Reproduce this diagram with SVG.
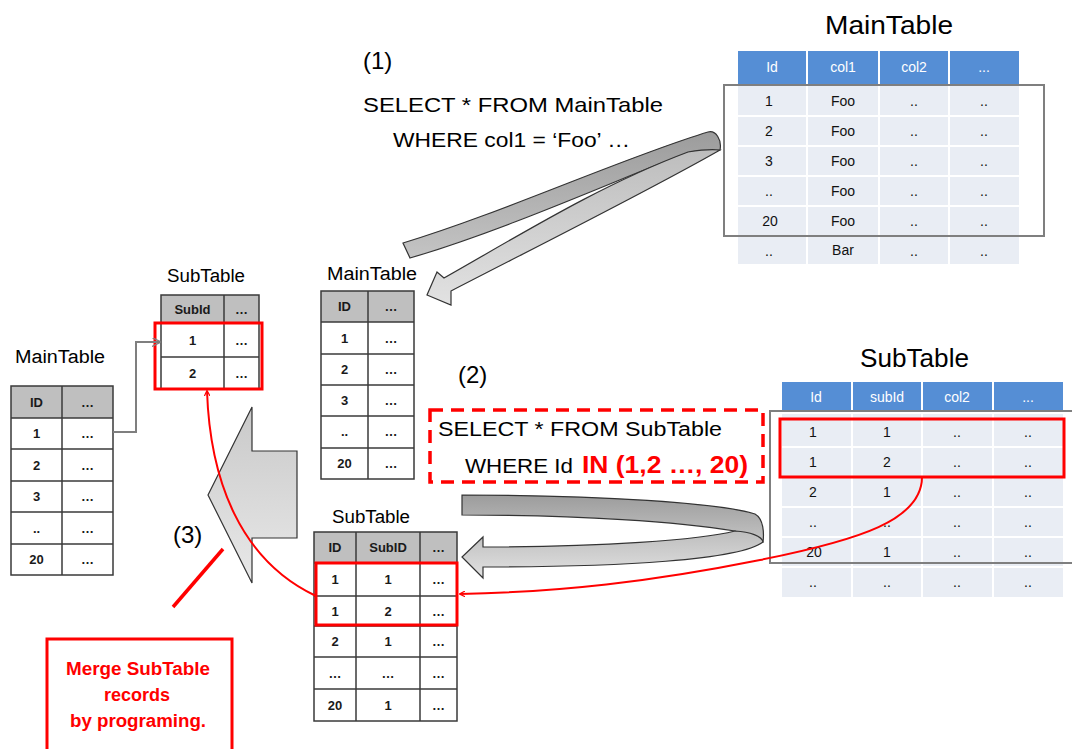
<svg xmlns="http://www.w3.org/2000/svg" width="1072" height="749" viewBox="0 0 1072 749">
<style>
.t{font-family:"Liberation Sans",Arial,sans-serif;fill:#000}
.c{font-family:"Liberation Sans",Arial,sans-serif;font-size:13px;font-weight:bold;fill:#1a1a1a;text-anchor:middle}
.g{font-family:"Liberation Sans",Arial,sans-serif;font-size:14px;fill:#111;text-anchor:middle}
.gh{font-family:"Liberation Sans",Arial,sans-serif;font-size:14px;fill:#fff;text-anchor:middle}
.grid{stroke:#3a3a3a;stroke-width:1.5;fill:none}
.wl{stroke:#fff;stroke-width:2}
.hd{fill:#bfbfbf}
.red{stroke:#ff0000;stroke-width:3;fill:none}
.rib{stroke:#333;stroke-width:1.2}
.tr{font-family:"Liberation Sans",Arial,sans-serif;font-weight:bold;fill:#ff0000;text-anchor:middle;font-size:18px}
</style>
<defs>
<marker id="ar" viewBox="0 0 10 10" refX="9" refY="5" markerWidth="6" markerHeight="6" orient="auto" markerUnits="userSpaceOnUse">
<path d="M0,0 L10,5 L0,10" fill="none" stroke="#ff0000" stroke-width="2"/>
</marker>
<marker id="ag" viewBox="0 0 10 10" refX="9" refY="5" markerWidth="9" markerHeight="9" orient="auto" markerUnits="userSpaceOnUse">
<path d="M0,0 L10,5 L0,10" fill="none" stroke="#7f7f7f" stroke-width="1.5"/>
</marker>
<linearGradient id="gb" x1="0" y1="0" x2="0" y2="1">
<stop offset="0" stop-color="#9c9c9c"/><stop offset="1" stop-color="#c4c4c4"/>
</linearGradient>
<linearGradient id="gf" x1="0" y1="0" x2="0" y2="1">
<stop offset="0" stop-color="#bdbdbd"/><stop offset="1" stop-color="#e2e2e2"/>
</linearGradient>
<linearGradient id="gbl" x1="0" y1="0" x2="0" y2="1">
<stop offset="0" stop-color="#c9c9c9"/><stop offset="1" stop-color="#e8e8e8"/>
</linearGradient>
</defs>
<rect width="1072" height="749" fill="#fff"/>

<!-- Top-right MainTable -->
<g id="main-table-top">
<text class="t" x="825" y="34" font-size="25" textLength="128" lengthAdjust="spacingAndGlyphs">MainTable</text>
<rect x="738" y="51" width="281" height="33" fill="#558ed5"/>
<rect x="738" y="86" width="281" height="178" fill="#e9edf4"/>
<g class="wl">
<line x1="807" y1="51" x2="807" y2="264"/><line x1="879" y1="51" x2="879" y2="264"/><line x1="949" y1="51" x2="949" y2="264"/>
<line x1="738" y1="116" x2="1019" y2="116"/><line x1="738" y1="146" x2="1019" y2="146"/><line x1="738" y1="176" x2="1019" y2="176"/><line x1="738" y1="206" x2="1019" y2="206"/><line x1="738" y1="236" x2="1019" y2="236"/>
</g>
<text class="gh" x="772" y="72">Id</text><text class="gh" x="843" y="72">col1</text><text class="gh" x="914" y="72">col2</text><text class="gh" x="984" y="72">...</text>
<text class="g" x="769" y="106">1</text><text class="g" x="843" y="106">Foo</text><text class="g" x="914" y="106">..</text><text class="g" x="984" y="106">..</text>
<text class="g" x="769" y="136">2</text><text class="g" x="843" y="136">Foo</text><text class="g" x="914" y="136">..</text><text class="g" x="984" y="136">..</text>
<text class="g" x="769" y="166">3</text><text class="g" x="843" y="166">Foo</text><text class="g" x="914" y="166">..</text><text class="g" x="984" y="166">..</text>
<text class="g" x="769" y="196">..</text><text class="g" x="843" y="196">Foo</text><text class="g" x="914" y="196">..</text><text class="g" x="984" y="196">..</text>
<text class="g" x="770" y="226">20</text><text class="g" x="843" y="226">Foo</text><text class="g" x="914" y="226">..</text><text class="g" x="984" y="226">..</text>
<text class="g" x="769" y="256">..</text><text class="g" x="843" y="255">Bar</text><text class="g" x="914" y="256">..</text><text class="g" x="984" y="256">..</text>
<rect x="724" y="85" width="320" height="151" fill="none" stroke="#7f7f7f" stroke-width="2"/>
</g>

<!-- Right SubTable -->
<g id="sub-table-right">
<text class="t" x="860" y="367" font-size="26" textLength="109" lengthAdjust="spacingAndGlyphs">SubTable</text>
<rect x="782" y="382" width="281" height="30" fill="#558ed5"/>
<rect x="782" y="414" width="281" height="183" fill="#e9edf4"/>
<g class="wl">
<line x1="852" y1="382" x2="852" y2="597"/><line x1="922" y1="382" x2="922" y2="597"/><line x1="993" y1="382" x2="993" y2="597"/>
<line x1="782" y1="447" x2="1063" y2="447"/><line x1="782" y1="477" x2="1063" y2="477"/><line x1="782" y1="507" x2="1063" y2="507"/><line x1="782" y1="537" x2="1063" y2="537"/><line x1="782" y1="567" x2="1063" y2="567"/>
</g>
<text class="gh" x="816" y="402">Id</text><text class="gh" x="887" y="402">subId</text><text class="gh" x="957" y="402">col2</text><text class="gh" x="1028" y="402">...</text>
<text class="g" x="813" y="437">1</text><text class="g" x="887" y="437">1</text><text class="g" x="957" y="437">..</text><text class="g" x="1028" y="437">..</text>
<text class="g" x="813" y="467">1</text><text class="g" x="887" y="467">2</text><text class="g" x="957" y="467">..</text><text class="g" x="1028" y="467">..</text>
<text class="g" x="813" y="497">2</text><text class="g" x="887" y="497">1</text><text class="g" x="957" y="497">..</text><text class="g" x="1028" y="497">..</text>
<text class="g" x="813" y="527">..</text><text class="g" x="887" y="527">..</text><text class="g" x="957" y="527">..</text><text class="g" x="1028" y="527">..</text>
<text class="g" x="814" y="557">20</text><text class="g" x="887" y="557">1</text><text class="g" x="957" y="557">..</text><text class="g" x="1028" y="557">..</text>
<text class="g" x="813" y="587">..</text><text class="g" x="887" y="587">..</text><text class="g" x="957" y="587">..</text><text class="g" x="1028" y="587">..</text>
<rect x="770" y="411" width="310" height="152" fill="none" stroke="#7f7f7f" stroke-width="2"/>
<rect x="780" y="419" width="284" height="58" class="red"/>
</g>

<!-- Middle MainTable -->
<g id="main-table-mid">
<text class="t" x="327" y="280" font-size="18" textLength="90" lengthAdjust="spacingAndGlyphs">MainTable</text>
<rect x="321" y="291" width="93" height="31" class="hd"/>
<rect x="321" y="322" width="93" height="157" fill="#fff"/>
<g class="grid">
<rect x="321" y="291" width="93" height="188"/>
<line x1="368" y1="291" x2="368" y2="479"/>
<line x1="321" y1="322" x2="414" y2="322"/><line x1="321" y1="354" x2="414" y2="354"/><line x1="321" y1="385" x2="414" y2="385"/><line x1="321" y1="416" x2="414" y2="416"/><line x1="321" y1="448" x2="414" y2="448"/>
</g>
<text class="c" x="344.5" y="311">ID</text><text class="c" x="391" y="311">…</text>
<text class="c" x="344.5" y="343">1</text><text class="c" x="391" y="343">…</text>
<text class="c" x="344.5" y="374">2</text><text class="c" x="391" y="374">…</text>
<text class="c" x="344.5" y="405">3</text><text class="c" x="391" y="405">…</text>
<text class="c" x="344.5" y="436">..</text><text class="c" x="391" y="436">…</text>
<text class="c" x="344.5" y="468">20</text><text class="c" x="391" y="468">…</text>
</g>

<!-- Left MainTable -->
<g id="main-table-left">
<text class="t" x="15" y="363" font-size="18" textLength="90" lengthAdjust="spacingAndGlyphs">MainTable</text>
<rect x="11" y="386" width="102" height="32" class="hd"/>
<rect x="11" y="418" width="102" height="157" fill="#fff"/>
<g class="grid">
<rect x="11" y="386" width="102" height="189"/>
<line x1="62" y1="386" x2="62" y2="575"/>
<line x1="11" y1="418" x2="113" y2="418"/><line x1="11" y1="449" x2="113" y2="449"/><line x1="11" y1="481" x2="113" y2="481"/><line x1="11" y1="512" x2="113" y2="512"/><line x1="11" y1="544" x2="113" y2="544"/>
</g>
<text class="c" x="36.5" y="406.5">ID</text><text class="c" x="87.5" y="406.5">…</text>
<text class="c" x="36.5" y="438">1</text><text class="c" x="87.5" y="438">…</text>
<text class="c" x="36.5" y="469.5">2</text><text class="c" x="87.5" y="469.5">…</text>
<text class="c" x="36.5" y="501">3</text><text class="c" x="87.5" y="501">…</text>
<text class="c" x="36.5" y="532.5">..</text><text class="c" x="87.5" y="532.5">…</text>
<text class="c" x="36.5" y="564">20</text><text class="c" x="87.5" y="564">…</text>
</g>

<!-- Left SubTable -->
<g id="sub-table-left">
<text class="t" x="167" y="282" font-size="18" textLength="78" lengthAdjust="spacingAndGlyphs">SubTable</text>
<rect x="161" y="295" width="98" height="28" class="hd"/>
<rect x="161" y="323" width="98" height="66" fill="#fff"/>
<g class="grid">
<rect x="161" y="295" width="98" height="94"/>
<line x1="224" y1="295" x2="224" y2="389"/>
<line x1="161" y1="323" x2="259" y2="323"/><line x1="161" y1="357" x2="259" y2="357"/>
</g>
<text class="c" x="192.5" y="314">SubId</text><text class="c" x="241.5" y="314">…</text>
<text class="c" x="192.5" y="345">1</text><text class="c" x="241.5" y="345">…</text>
<text class="c" x="192.5" y="378">2</text><text class="c" x="241.5" y="378">…</text>
<rect x="155" y="323" width="107" height="66" class="red"/>
</g>

<!-- Lower SubTable -->
<g id="sub-table-low">
<text class="t" x="332" y="523" font-size="18" textLength="78" lengthAdjust="spacingAndGlyphs">SubTable</text>
<rect x="314" y="532" width="143" height="31" class="hd"/>
<rect x="314" y="563" width="143" height="158" fill="#fff"/>
<g class="grid">
<rect x="314" y="532" width="143" height="189"/>
<line x1="356" y1="532" x2="356" y2="721"/><line x1="420" y1="532" x2="420" y2="721"/>
<line x1="314" y1="563" x2="457" y2="563"/><line x1="314" y1="596" x2="457" y2="596"/><line x1="314" y1="626" x2="457" y2="626"/><line x1="314" y1="657" x2="457" y2="657"/><line x1="314" y1="689" x2="457" y2="689"/>
</g>
<text class="c" x="335" y="552">ID</text><text class="c" x="388" y="552">SubID</text><text class="c" x="438.5" y="552">…</text>
<text class="c" x="335" y="584">1</text><text class="c" x="388" y="584">1</text><text class="c" x="438.5" y="584">…</text>
<text class="c" x="335" y="615.5">1</text><text class="c" x="388" y="615.5">2</text><text class="c" x="438.5" y="615.5">…</text>
<text class="c" x="335" y="646">2</text><text class="c" x="388" y="646">1</text><text class="c" x="438.5" y="646">…</text>
<text class="c" x="335" y="677.5">…</text><text class="c" x="388" y="677.5">…</text><text class="c" x="438.5" y="677.5">…</text>
<text class="c" x="335" y="709.5">20</text><text class="c" x="388" y="709.5">1</text><text class="c" x="438.5" y="709.5">…</text>
<rect x="316" y="563" width="141" height="62" class="red"/>
</g>

<!-- Query 1 -->
<g id="query1">
<text class="t" x="363" y="69" font-size="24">(1)</text>
<text class="t" x="363" y="112" font-size="21" textLength="300" lengthAdjust="spacingAndGlyphs">SELECT * FROM MainTable</text>
<text class="t" x="393" y="147" font-size="21" textLength="237" lengthAdjust="spacingAndGlyphs">WHERE col1 = ‘Foo’ …</text>
</g>

<!-- Query 2 -->
<g id="query2">
<text class="t" x="458" y="383" font-size="24">(2)</text>
<rect x="430" y="410" width="333" height="72" fill="none" stroke="#ff0000" stroke-width="3.5" stroke-dasharray="13,8"/>
<text class="t" x="438" y="436" font-size="20" textLength="284" lengthAdjust="spacingAndGlyphs">SELECT * FROM SubTable</text>
<text class="t" x="465" y="473" font-size="20" textLength="108" lengthAdjust="spacingAndGlyphs">WHERE Id</text>
<text class="t" x="582" y="473" font-size="23" font-weight="bold" style="fill:#ff0000" textLength="166" lengthAdjust="spacingAndGlyphs">IN (1,2 …, 20)</text>
</g>

<!-- Step 3 -->
<g id="step3">
<text class="t" x="173" y="543" font-size="24">(3)</text>
<rect x="47" y="639" width="185" height="120" fill="none" stroke="#ff0000" stroke-width="3"/>
<text class="tr" x="138" y="675" textLength="144" lengthAdjust="spacingAndGlyphs">Merge SubTable</text>
<text class="tr" x="137" y="701">records</text>
<text class="tr" x="138" y="727" textLength="136" lengthAdjust="spacingAndGlyphs">by programing.</text>
</g>

<!-- Big arrows -->
<g id="arrows">
<path class="rib" fill="url(#gb)" d="M403,243 C505,212 625,157 708,132 C716,130 722,140 720,150 L690,152 C632,173 512,228 410,258 Z"/>
<path class="rib" fill="url(#gf)" d="M720,150 C712,149 700,150 688,152 C600,185 520,235 444,278 L437,272 L427,295 L451,305 L451,291 C540,245 650,190 720,150 Z"/>
<path class="rib" fill="url(#gb)" d="M462,495 C600,495 720,503 755,514 C764,519 764,534 763,542 L735,531 C680,522 580,515 462,515 Z"/>
<path class="rib" fill="url(#gf)" d="M735,531 C700,540 600,547 483,547 L483,537 L462,557 L483,578 L483,567 C620,567 740,560 763,542 C762,536 750,532 735,531 Z"/>
<path class="rib" fill="url(#gbl)" d="M208,495 L252,407 L252,451 L297,451 L297,538 L252,538 L252,583 Z"/>
</g>

<!-- Connectors -->
<g id="connectors">
<polyline points="113,432 136,432 136,342 160,342" fill="none" stroke="#7f7f7f" stroke-width="2" marker-end="url(#ag)"/>
<path d="M922,477 C922,520 860,540 760,560 C650,582 560,592 460,594" fill="none" stroke="#ff0000" stroke-width="2" marker-end="url(#ar)"/>
<path d="M316,596 C240,560 210,480 207,391" fill="none" stroke="#ff0000" stroke-width="2" marker-end="url(#ar)"/>
<line x1="223" y1="549" x2="173" y2="607" stroke="#ff0000" stroke-width="3.5"/>
</g>
</svg>
